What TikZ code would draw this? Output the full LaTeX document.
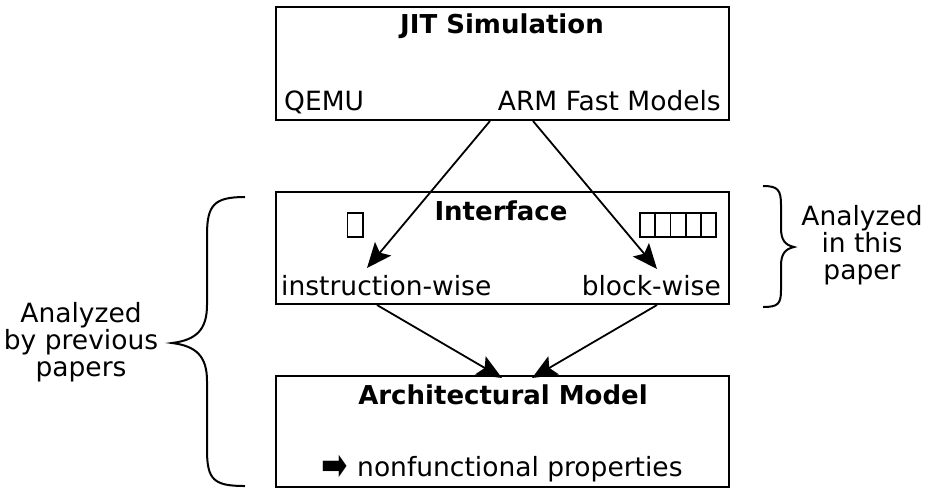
\documentclass[tikz,border=0pt]{standalone}
\usepackage{fontspec}
\setmainfont{DejaVu Sans}
\usetikzlibrary{arrows.meta}
\begin{document}
\begin{tikzpicture}[x=1pt,y=-1pt,
  box/.style={draw,line width=2pt,minimum width=453pt,inner sep=0pt},
  lbl/.style={inner sep=0pt,font=\fontsize{26.5}{27}\selectfont},
  blbl/.style={inner sep=0pt,font=\fontsize{26}{27}\selectfont\bfseries},
  arr/.style={line width=1.8pt,-{Stealth[length=25pt,width=21pt,inset=5pt]}},
  brc/.style={line width=2pt},
  cell/.style={draw,line width=1.8pt,minimum width=15.2pt,minimum height=24pt,inner sep=0pt}]
\useasboundingbox (0,0) rectangle (929,491);
% boxes
\node[box,minimum height=113pt] (jit) at (502.5,63.5) {};
\node[box,minimum height=112pt] (itf) at (502.5,248) {};
\node[box,minimum height=111pt] (arch) at (502.5,431.5) {};
% texts
\node[blbl,anchor=base] (jitt) at (502,33) {JIT Simulation};
\node[lbl,anchor=base west] (qemu) at (284,110) {QEMU};
\node[lbl,anchor=base east] (arm) at (721,110) {ARM Fast Models};
\node[blbl,anchor=base] (itft) at (501,220) {Interface};
\node[lbl,anchor=base west] (iw) at (281,295) {instruction-wise};
\node[lbl,anchor=base east] (bw) at (721,295) {block-wise};
\node[blbl,anchor=base] (archt) at (503,404) {Architectural Model};
\node[inner sep=1pt,font=\fontsize{30}{30}\selectfont] (harr) at (334.5,468) {\scalebox{1.05}[1.5]{➡}};
\node[lbl,anchor=base west] (nf) at (357,476) {nonfunctional properties};
% cells
\node[cell] (c0) at (355,225) {};
\foreach \i in {1,...,5}{
  \node[cell] (b\i) at (640+15.2*\i-7.6,225) {};
}
% arrow endpoints
\coordinate (s1) at (490,121);
\coordinate (e1) at (367,268);
\coordinate (s2) at (533,121);
\coordinate (e2) at (657,269);
\coordinate (s3) at (377,305);
\coordinate (e3) at (502,378);
\coordinate (s4) at (657,305);
\coordinate (e4) at (532,378);
\draw[arr] (s1) -- (e1);
\draw[arr] (s2) -- (e2);
\draw[arr] (s3) -- (e3);
\draw[arr] (s4) -- (e4);
% braces
\draw[brc] (245,197) .. controls (214,197) and (207,205) .. (207,235) -- (207,305)
  .. controls (207,330) and (196,340) .. (172,343)
  .. controls (196,346) and (207,356) .. (207,381) -- (207,450)
  .. controls (207,480) and (214,486) .. (245,486);
\draw[brc] (763,186) .. controls (778,186) and (781,190) .. (781,205) -- (781,228)
  .. controls (781,240) and (785,245) .. (794,247)
  .. controls (785,249) and (781,254) .. (781,266) -- (781,290)
  .. controls (781,304) and (778,307) .. (763,307);
% side labels
\node[lbl,align=center] (prev) at (81,342) {Analyzed\\by previous\\papers};
\node[lbl,align=center] (this) at (862,245) {Analyzed\\in this\\paper};
\end{tikzpicture}
\end{document}
